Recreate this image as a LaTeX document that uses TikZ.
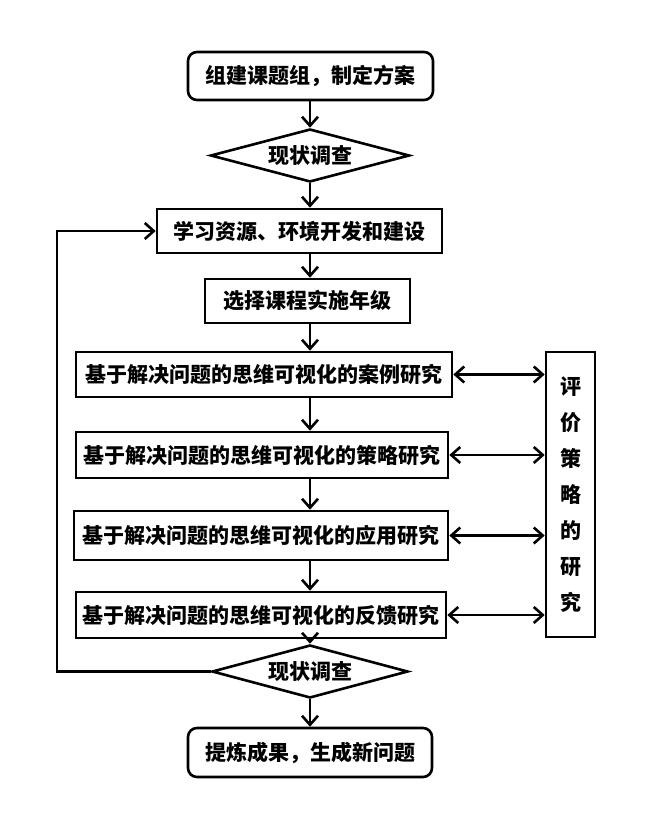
\documentclass[tikz,border=0pt]{standalone}
\usepackage{fontspec}
\newfontfamily\cjk{Noto Sans CJK SC}
\usetikzlibrary{arrows.meta,shapes.geometric}
\tikzset{
  box/.style={draw, line width=2.6pt, inner sep=0pt, font=\cjk\bfseries\fontsize{21pt}{24pt}\selectfont},
  rbox/.style={box, rounded corners=9pt},
  dia/.style={draw, diamond, aspect=4, line width=2.6pt, inner sep=0pt, font=\cjk\bfseries\fontsize{21pt}{24pt}\selectfont},
  conn/.style={line width=2.6pt, -{Straight Barb[length=9pt,width=16pt,line width=2.6pt]}},
  dconn/.style={line width=2.6pt, {Straight Barb[length=9pt,width=16pt,line width=2.6pt]}-{Straight Barb[length=9pt,width=16pt,line width=2.6pt]}},
  plain/.style={line width=2.6pt}
}
\begin{document}
\begin{tikzpicture}[x=1pt,y=-1pt]
\useasboundingbox (0,0) rectangle (660,813);
\node[rbox, minimum width=245pt, minimum height=48pt] (b1) at (310.5,76) {组建课题组，制定方案};
\node[dia, minimum width=199pt, minimum height=53pt] (d1) at (310,155.5) {现状调查};
\node[box, minimum width=285pt, minimum height=44pt] (b3) at (299.5,231) {学习资源、环境开发和建设};
\node[box, minimum width=205pt, minimum height=44pt] (b4) at (307.5,301) {选择课程实施年级};
\node[box, minimum width=376pt, minimum height=45pt] (b5) at (264,374.5) {基于解决问题的思维可视化的案例研究};
\node[box, minimum width=372pt, minimum height=46pt] (b6) at (262,455) {基于解决问题的思维可视化的策略研究};
\node[box, minimum width=374pt, minimum height=49pt] (b7) at (261,535.5) {基于解决问题的思维可视化的应用研究};
\node[box, minimum width=370pt, minimum height=46pt] (b8) at (261,615) {基于解决问题的思维可视化的反馈研究};
\node[box, minimum width=49pt, minimum height=285pt, align=center, font=\cjk\bfseries\fontsize{21pt}{36pt}\selectfont] (side) at (570.5,494.5) {评\\价\\策\\略\\的\\研\\究};
\node[dia, minimum width=196pt, minimum height=53pt] (d2) at (310,671.5) {现状调查};
\node[rbox, minimum width=244pt, minimum height=49pt] (b9) at (310,752.5) {提炼成果，生成新问题};
\coordinate (loop) at (57,671.5);

\draw[conn] (b1.south -| d1) -- (d1.north);
\draw[conn] (d1.south) -- (b3.north -| d1);
\draw[conn] (b3.south -| d1) -- (b4.north -| d1);
\draw[conn] (b4.south -| d1) -- (b5.north -| d1);
\draw[conn] (b5.south -| d1) -- (b6.north -| d1);
\draw[conn] (b6.south -| d1) -- (b7.north -| d1);
\draw[conn] (b7.south -| d1) -- (b8.north -| d1);
\draw[conn] (b8.south -| d1) -- (d2.north);
\draw[conn] (d2.south) -- (b9.north);
\draw[conn] (d2.west) -- (loop) |- (b3.west);

\draw[dconn] (b5.east) -- (b5.east -| side.west);
\draw[dconn] (b6.east) -- (b6.east -| side.west);
\draw[dconn] (b7.east) -- (b7.east -| side.west);
\draw[dconn] (b8.east) -- (b8.east -| side.west);
\end{tikzpicture}
\end{document}
